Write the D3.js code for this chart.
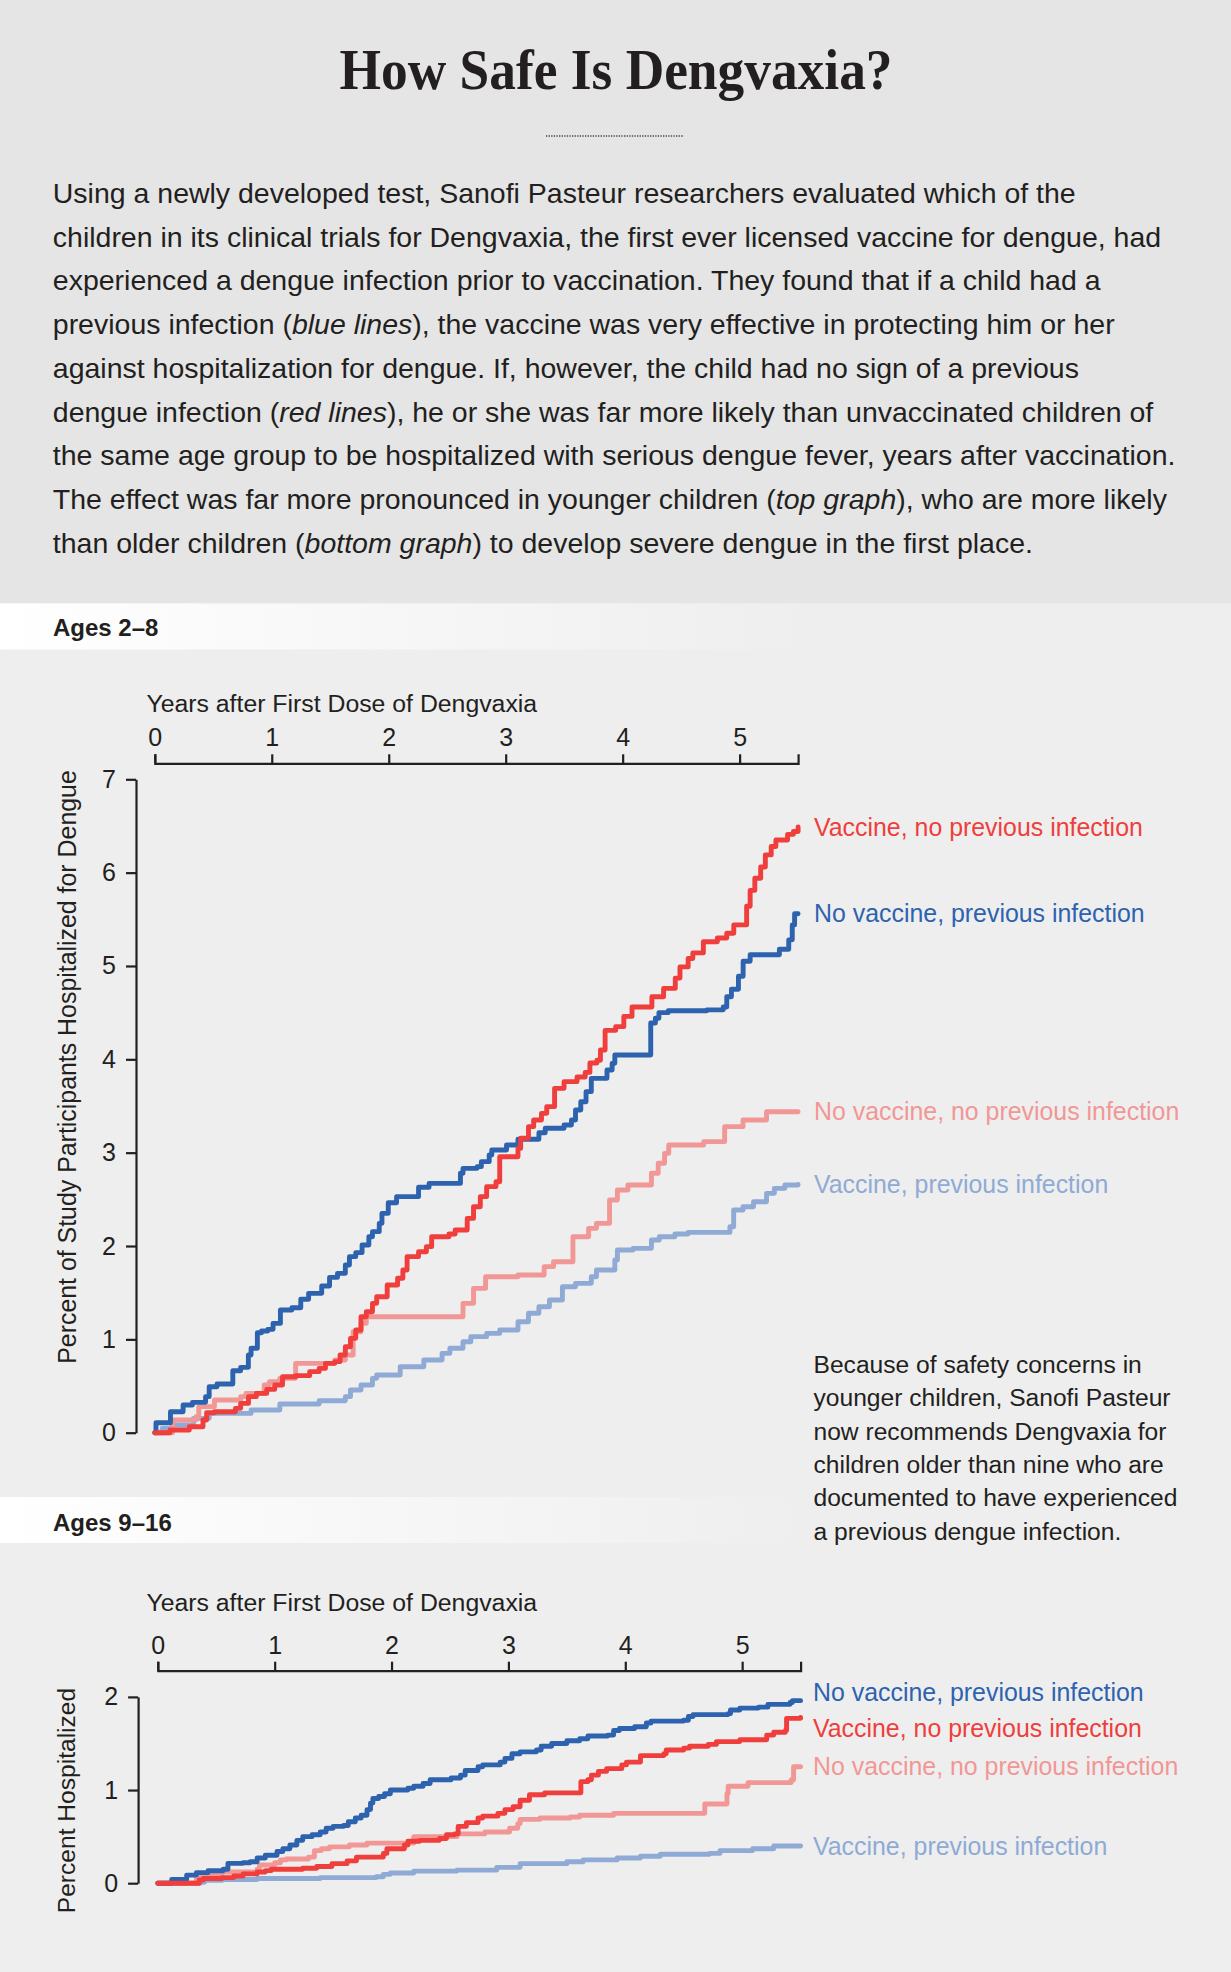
<!DOCTYPE html>
<html><head><meta charset="utf-8">
<script src="https://cdn.jsdelivr.net/npm/d3@7"></script>
<style>
body{margin:0;background:#eeeeee}
svg{display:block}
text{font-family:"Liberation Sans",Arial,Helvetica,sans-serif;fill:#231f20}
</style>
</head><body><svg id="c" width="1231" height="1972"></svg>
<script>
// ---------------- DATA ----------------
const seriesNames = ["Vaccine, no previous infection","No vaccine, previous infection","No vaccine, no previous infection","Vaccine, previous infection"];
const xTickValues = [0,1,2,3,4,5];
const topYTickValues = [0,1,2,3,4,5,6,7];
const bottomYTickValues = [0,1,2];

// Ages 2–8 (years after first dose, percent hospitalized)
const young_vaccine_noPrior = [[0,0],[0.13,0.029],[0.295,0.064],[0.412,0.136],[0.443,0.214],[0.51,0.225],[0.689,0.261],[0.734,0.314],[0.801,0.386],[0.868,0.421],[0.957,0.464],[1.025,0.511],[1.092,0.6],[1.204,0.611],[1.324,0.654],[1.405,0.689],[1.459,0.743],[1.539,0.761],[1.584,0.832],[1.629,0.921],[1.673,1.011],[1.718,1.1],[1.763,1.243],[1.808,1.296],[1.861,1.386],[1.897,1.457],[1.987,1.582],[2.076,1.654],[2.121,1.743],[2.157,1.886],[2.255,1.939],[2.322,1.993],[2.367,2.1],[2.515,2.129],[2.568,2.171],[2.671,2.296],[2.725,2.421],[2.783,2.529],[2.837,2.636],[2.917,2.689],[2.949,2.957],[3.105,3.046],[3.128,3.154],[3.195,3.279],[3.239,3.35],[3.306,3.421],[3.351,3.493],[3.418,3.689],[3.499,3.761],[3.61,3.81],[3.68,3.86],[3.72,3.96],[3.78,3.99],[3.81,4.1],[3.85,4.31],[3.94,4.35],[4.01,4.46],[4.08,4.56],[4.25,4.67],[4.35,4.76],[4.45,4.87],[4.49,4.99],[4.56,5.08],[4.6,5.14],[4.69,5.26],[4.81,5.3],[4.89,5.35],[4.95,5.44],[5.06,5.64],[5.09,5.81],[5.13,5.94],[5.18,6.06],[5.22,6.19],[5.27,6.28],[5.31,6.35],[5.41,6.41],[5.46,6.44],[5.5,6.49]];
const young_noVaccine_prior = [[0,0],[0.01,0.107],[0.134,0.225],[0.242,0.296],[0.322,0.325],[0.434,0.386],[0.465,0.493],[0.532,0.521],[0.667,0.664],[0.734,0.7],[0.8,0.832],[0.823,0.904],[0.877,1.071],[0.913,1.089],[0.966,1.107],[1.011,1.171],[1.074,1.314],[1.172,1.339],[1.248,1.429],[1.315,1.493],[1.427,1.571],[1.494,1.664],[1.562,1.707],[1.629,1.796],[1.664,1.886],[1.718,1.929],[1.772,2.011],[1.83,2.1],[1.861,2.154],[1.919,2.243],[1.942,2.35],[1.996,2.464],[2.067,2.529],[2.255,2.629],[2.345,2.671],[2.613,2.779],[2.635,2.832],[2.756,2.85],[2.792,2.904],[2.859,2.975],[2.881,3.029],[3.007,3.082],[3.105,3.143],[3.284,3.214],[3.338,3.261],[3.499,3.296],[3.562,3.35],[3.597,3.457],[3.642,3.546],[3.687,3.654],[3.732,3.796],[3.866,3.886],[3.91,3.957],[3.933,4.046],[4.24,4.39],[4.28,4.44],[4.31,4.5],[4.39,4.52],[4.72,4.53],[4.86,4.56],[4.89,4.67],[4.93,4.75],[4.99,4.89],[5.03,5.05],[5.09,5.12],[5.34,5.18],[5.42,5.28],[5.45,5.44],[5.47,5.56],[5.5,5.56]];
const young_noVaccine_noPrior = [[0,0],[0.152,0.136],[0.353,0.171],[0.376,0.279],[0.51,0.35],[0.734,0.386],[0.779,0.421],[0.935,0.511],[0.98,0.546],[1.069,0.582],[1.204,0.743],[1.539,0.779],[1.629,0.832],[1.696,1.082],[1.763,1.171],[1.808,1.243],[2.635,1.386],[2.725,1.546],[2.828,1.671],[3.105,1.689],[3.329,1.779],[3.409,1.832],[3.575,2.1],[3.709,2.189],[3.776,2.243],[3.888,2.493],[3.955,2.6],[4.045,2.654],[4.246,2.779],[4.304,2.886],[4.358,2.993],[4.394,3.082],[4.693,3.118],[4.872,3.279],[5.029,3.35],[5.23,3.439],[5.5,3.439]];
const young_vaccine_prior = [[0,0],[0.063,0.046],[0.152,0.082],[0.331,0.154],[0.465,0.207],[0.823,0.243],[1.069,0.307],[1.405,0.343],[1.629,0.386],[1.673,0.457],[1.763,0.511],[1.861,0.582],[1.897,0.618],[2.098,0.707],[2.3,0.779],[2.456,0.85],[2.523,0.904],[2.635,0.975],[2.702,1.029],[2.837,1.064],[2.949,1.1],[3.105,1.189],[3.195,1.279],[3.284,1.35],[3.374,1.421],[3.485,1.564],[3.597,1.6],[3.732,1.671],[3.776,1.743],[3.933,1.85],[3.955,1.957],[4.089,1.975],[4.246,2.064],[4.313,2.1],[4.447,2.129],[4.559,2.146],[4.917,2.207],[4.949,2.386],[5.029,2.421],[5.119,2.475],[5.23,2.564],[5.297,2.618],[5.387,2.654],[5.5,2.66]];

// Ages 9–16
const old_vaccine_noPrior = [[0,0],[0.355,0.035],[0.39,0.05],[0.55,0.06],[0.65,0.077],[0.73,0.1],[0.85,0.12],[0.92,0.135],[0.97,0.149],[1.24,0.16],[1.36,0.18],[1.49,0.21],[1.62,0.24],[1.7,0.28],[1.93,0.32],[1.96,0.37],[2.11,0.41],[2.14,0.45],[2.24,0.46],[2.41,0.48],[2.47,0.52],[2.54,0.53],[2.57,0.61],[2.64,0.65],[2.74,0.7],[2.78,0.72],[2.91,0.75],[2.97,0.79],[3.04,0.82],[3.1,0.89],[3.18,0.95],[3.31,0.97],[3.62,1.09],[3.68,1.11],[3.71,1.16],[3.77,1.2],[3.84,1.23],[3.97,1.27],[4.01,1.3],[4.13,1.37],[4.33,1.39],[4.35,1.43],[4.5,1.45],[4.55,1.47],[4.71,1.49],[4.78,1.52],[4.98,1.54],[5.21,1.59],[5.27,1.62],[5.37,1.64],[5.38,1.77],[5.5,1.78]];
const old_noVaccine_prior = [[0,0],[0.119,0.04],[0.247,0.087],[0.33,0.113],[0.43,0.134],[0.56,0.149],[0.6,0.213],[0.73,0.22],[0.79,0.23],[0.85,0.27],[0.92,0.3],[1.02,0.34],[1.07,0.37],[1.13,0.41],[1.19,0.46],[1.24,0.5],[1.32,0.52],[1.39,0.55],[1.44,0.59],[1.5,0.61],[1.59,0.62],[1.63,0.66],[1.69,0.7],[1.74,0.73],[1.79,0.79],[1.82,0.86],[1.84,0.91],[1.89,0.93],[1.94,0.96],[1.99,1.0],[2.14,1.02],[2.19,1.04],[2.27,1.07],[2.33,1.11],[2.51,1.13],[2.59,1.16],[2.63,1.21],[2.74,1.25],[2.78,1.27],[2.93,1.3],[2.97,1.34],[3.03,1.39],[3.1,1.41],[3.24,1.43],[3.28,1.47],[3.37,1.5],[3.5,1.53],[3.61,1.55],[3.68,1.58],[3.85,1.59],[3.9,1.64],[3.95,1.66],[4.08,1.68],[4.18,1.72],[4.22,1.74],[4.5,1.75],[4.54,1.79],[4.58,1.81],[4.88,1.82],[4.9,1.86],[4.98,1.88],[5.14,1.89],[5.22,1.92],[5.41,1.94],[5.43,1.96],[5.5,1.96]];
const old_noVaccine_noPrior = [[0,0],[0.33,0.07],[0.42,0.1],[0.55,0.12],[0.85,0.15],[0.87,0.195],[1.0,0.22],[1.05,0.25],[1.1,0.26],[1.29,0.28],[1.34,0.35],[1.4,0.37],[1.47,0.39],[1.64,0.41],[1.79,0.43],[2.19,0.5],[2.56,0.53],[2.8,0.55],[3.01,0.59],[3.08,0.64],[3.1,0.685],[3.27,0.7],[3.53,0.71],[3.61,0.73],[3.9,0.75],[4.68,0.85],[4.87,0.96],[4.88,1.04],[5.05,1.08],[5.42,1.11],[5.44,1.25],[5.5,1.25]];
const old_vaccine_prior = [[0,0],[0.36,0.01],[0.4,0.03],[0.55,0.04],[0.85,0.05],[1.39,0.06],[1.87,0.07],[1.93,0.095],[1.99,0.11],[2.19,0.13],[2.56,0.14],[2.9,0.17],[3.1,0.21],[3.5,0.23],[3.64,0.25],[3.93,0.27],[4.13,0.29],[4.3,0.31],[4.72,0.32],[4.81,0.35],[5.09,0.37],[5.27,0.4],[5.5,0.4]];

// ---------------- TEXT ----------------
const titleText = "How Safe Is Dengvaxia?";
const bodyLines = [
  [["Using a newly developed test, Sanofi Pasteur researchers evaluated which of the",0]],
  [["children in its clinical trials for Dengvaxia, the first ever licensed vaccine for dengue, had",0]],
  [["experienced a dengue infection prior to vaccination. They found that if a child had a",0]],
  [["previous infection (",0],["blue lines",1],["), the vaccine was very effective in protecting him or her",0]],
  [["against hospitalization for dengue. If, however, the child had no sign of a previous",0]],
  [["dengue infection (",0],["red lines",1],["), he or she was far more likely than unvaccinated children of",0]],
  [["the same age group to be hospitalized with serious dengue fever, years after vaccination.",0]],
  [["The effect was far more pronounced in younger children (",0],["top graph",1],["), who are more likely",0]],
  [["than older children (",0],["bottom graph",1],[") to develop severe dengue in the first place.",0]]
];
const noteLines = ["Because of safety concerns in","younger children, Sanofi Pasteur","now recommends Dengvaxia for","children older than nine who are","documented to have experienced","a previous dengue infection."];

// ---------------- DRAW ----------------
const svg = d3.select("#c");
const colors = {vnp:"#ef3e3c", nvp:"#2d62ae", nvnp:"#f19795", vp:"#8eaad5"};
const ink = "#231f20";

function fit(sel, target){ // scale font so measured width = target
  const w = sel.node().getComputedTextLength();
  const fs = parseFloat(sel.attr("font-size"));
  return fs*target/w;
}

// backgrounds
svg.append("rect").attr("x",0).attr("y",0).attr("width",1231).attr("height",1972).attr("fill","#eeeeee");
svg.append("rect").attr("x",0).attr("y",0).attr("width",1231).attr("height",603.5).attr("fill","#e5e5e5");
const defs = svg.append("defs");
const grad = defs.append("linearGradient").attr("id","band").attr("x1",0).attr("x2",1).attr("y1",0).attr("y2",0);
grad.append("stop").attr("offset",0).attr("stop-color","#ffffff");
grad.append("stop").attr("offset",0.08).attr("stop-color","#fdfdfd");
grad.append("stop").attr("offset",0.66).attr("stop-color","#eeeeee");
grad.append("stop").attr("offset",1).attr("stop-color","#eeeeee");
svg.append("rect").attr("x",0).attr("y",603.5).attr("width",1231).attr("height",46).attr("fill","url(#band)");
svg.append("rect").attr("x",0).attr("y",1497).attr("width",1231).attr("height",46).attr("fill","url(#band)");

// title
svg.append("text").attr("x",616).attr("y",89.3).attr("text-anchor","middle")
  .style("font-family","'Liberation Serif','Times New Roman',serif").attr("font-weight","bold")
  .attr("font-size",56).attr("textLength",553).attr("lengthAdjust","spacingAndGlyphs").text(titleText);
svg.append("line").attr("x1",546).attr("x2",684).attr("y1",136).attr("y2",136)
  .attr("stroke","#444").attr("stroke-width",1.6).attr("stroke-dasharray","1.3,1.3");

// body
const body = svg.append("g");
bodyLines.forEach((parts,i)=>{
  const t = body.append("text").attr("x",52.8).attr("y",202.8+i*43.78).attr("font-size",27);
  parts.forEach(p=>t.append("tspan").text(p[0]).style("font-style",p[1]?"italic":"normal"));
});
const bfs = fit(body.selectAll("text").filter((d,i)=>i===6), 1123);
body.selectAll("text").attr("font-size",bfs);

// section headers
svg.append("text").attr("x",53).attr("y",635.7).attr("font-size",24).attr("font-weight","bold").text("Ages 2\u20138");
svg.append("text").attr("x",53).attr("y",1530.5).attr("font-size",24).attr("font-weight","bold").text("Ages 9\u201316");

// note
const note = svg.append("g");
noteLines.forEach((l,i)=>note.append("text").attr("x",813.5).attr("y",1373+i*33.35).attr("font-size",22).text(l));
const nfs = fit(note.selectAll("text").filter((d,i)=>i===4), 364);
note.selectAll("text").attr("font-size",nfs);

function panel(cfg){
  const g = svg.append("g");
  const x = d3.scaleLinear().domain([0,5.5]).range(cfg.xr);
  const y = d3.scaleLinear().domain(cfg.yd).range(cfg.yr);
  // x axis (top)
  const xa = g.append("g").attr("transform",`translate(0,${cfg.xAxisY})`)
    .call(d3.axisTop(x).tickValues(xTickValues).tickFormat(d3.format("d")).tickSize(9).tickSizeOuter(9).tickPadding(8));
  // y axis
  const ya = g.append("g").attr("transform",`translate(${cfg.yAxisX},0)`)
    .call(d3.axisLeft(y).tickValues(cfg.yTicks).tickFormat(d3.format("d")).tickSize(10).tickSizeOuter(0).tickPadding(10));
  [xa,ya].forEach(a=>{
    a.selectAll("path,line").attr("stroke",ink).attr("stroke-width",2.2);
    a.selectAll("text").attr("font-size",25).style("font-family","'Liberation Sans',Arial,sans-serif").attr("fill",ink);
  });
  // axis titles
  const xt = g.append("text").attr("x",146.4).attr("y",cfg.xTitleY).attr("font-size",24).text("Years after First Dose of Dengvaxia");
  xt.attr("font-size",fit(xt,391));
  const yt = g.append("text").attr("transform",`translate(${cfg.yTitleX},${cfg.yTitleY}) rotate(-90)`)
    .attr("text-anchor","middle").attr("font-size",24).text(cfg.yTitle);
  yt.attr("font-size",fit(yt,cfg.yTitleLen));
  // lines
  const line = d3.line().x(d=>x(d[0])).y(d=>y(d[1])).curve(d3.curveStepAfter);
  cfg.series.forEach(s=>{
    g.append("path").datum(s.data).attr("d",line).attr("fill","none")
      .attr("stroke",colors[s.key]).attr("stroke-width",4.9).attr("stroke-linejoin","round").attr("stroke-linecap","round");
  });
  // labels
  let lfs = null;
  cfg.series.forEach(s=>{
    const last = s.data[s.data.length-1];
    const t = g.append("text").attr("x",cfg.labelX).attr("y",y(last[1])+(s.nudge||0)).attr("dy","0.35em")
      .attr("font-size",24).attr("fill",colors[s.key]).style("fill",colors[s.key]).text(s.name);
    if(s.name===seriesNames[0]) lfs = fit(t,329);
  });
  g.selectAll("text").filter(function(){return this.getAttribute("dy")==="0.35em" && this.getAttribute("x")==String(cfg.labelX);}).attr("font-size",lfs);
}

panel({
  xr:[154.8,798.1], yd:[0,7], yr:[1432.7,779.3], xAxisY:763.3, yAxisX:136, yTicks:topYTickValues,
  xTitleY:712.3, yTitleX:76, yTitleY:1067, yTitle:"Percent of Study Participants Hospitalized for Dengue", yTitleLen:594,
  labelX:814,
  series:[
    {key:"vp", name:seriesNames[3], data:young_vaccine_prior},
    {key:"nvnp", name:seriesNames[2], data:young_noVaccine_noPrior},
    {key:"nvp", name:seriesNames[1], data:young_noVaccine_prior},
    {key:"vnp", name:seriesNames[0], data:young_vaccine_noPrior}
  ]
});
panel({
  xr:[157.8,800.6], yd:[0,2], yr:[1883.2,1696.9], xAxisY:1670.7, yAxisX:138.1, yTicks:bottomYTickValues,
  xTitleY:1611, yTitleX:75, yTitleY:1800.5, yTitle:"Percent Hospitalized", yTitleLen:225.6,
  labelX:813,
  series:[
    {key:"vp", name:seriesNames[3], data:old_vaccine_prior},
    {key:"nvnp", name:seriesNames[2], data:old_noVaccine_noPrior},
    {key:"nvp", name:seriesNames[1], data:old_noVaccine_prior, nudge:-8},
    {key:"vnp", name:seriesNames[0], data:old_vaccine_noPrior, nudge:11}
  ]
});
</script></body></html>
